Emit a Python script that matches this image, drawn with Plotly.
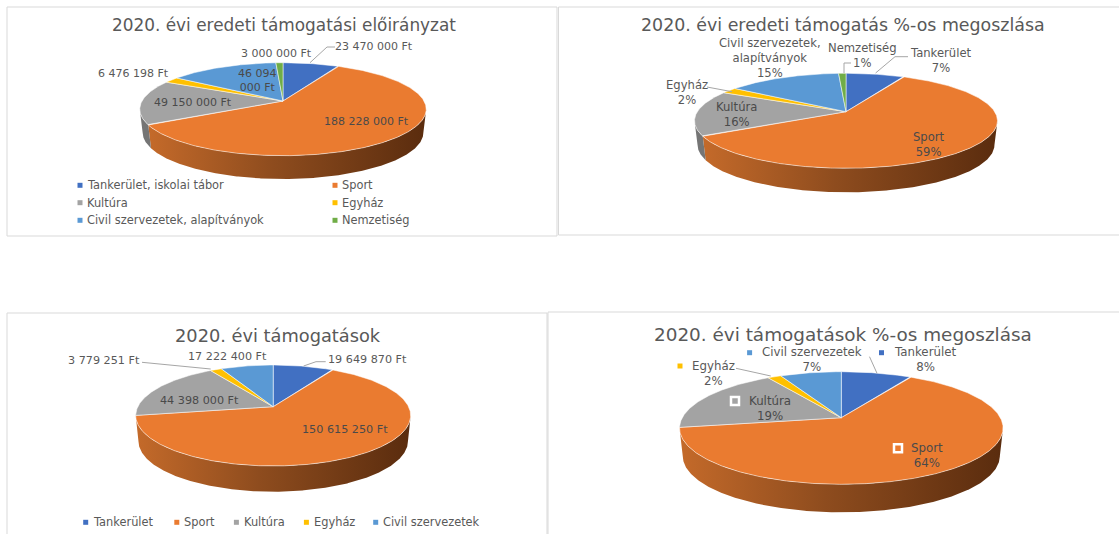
import math
import plotly.graph_objects as go

# ---------- data ----------
cats_original = ["Tankerület", "Sport", "Kultúra", "Egyház", "Civil szervezetek", "Nemzetiség"]
values_original = [23470000, 188228000, 49150000, 6476198, 46094000, 3000000]
cats_final = ["Tankerület", "Sport", "Kultúra", "Egyház", "Civil szervezetek"]
values_final = [19649870, 150615250, 44398000, 3779251, 17222400]
legend_original = ["Tankerület, iskolai tábor", "Sport", "Kultúra", "Egyház",
                   "Civil szervezetek, alapítványok", "Nemzetiség"]
titles = ["2020. évi eredeti támogatási előirányzat", "2020. évi eredeti támogatás %-os megoszlása",
          "2020. évi támogatások", "2020. évi támogatások %-os megoszlása"]

# ---------- style ----------
COLORS = ["#4170C2", "#EA7B30", "#A3A3A3", "#FFC000", "#5A99D4", "#70AD47"]
GREY = "#595959"
DARK = "#4A4A4A"
FONT = "DejaVu Sans"
LEAD = "#A6A6A6"
FRAME = "#D9D9D9"

fig = go.Figure()


def ft(v):
    return f"{v:,}".replace(",", " ") + " Ft"


def pct(values, i):
    return f"{round(100 * values[i] / sum(values))}%"


def text(x, y, s, size=10, color=GREY, anchor="center", font=FONT):
    fig.add_annotation(x=x, y=y, text=s, showarrow=False, xref="x", yref="y", xanchor=anchor,
                       yanchor="middle", align="center", borderpad=0,
                       font=dict(family=font, size=size, color=color))


def pie3d(values, apex_x, apex_y, top, bottom, left, right, depth_bottom):
    """Perspective-tilted pie: each slice angle comes from the values."""
    up, down = apex_y - top, bottom - apex_y
    k = (down - up) / (down + up)
    b = up * (1 + k)
    a = (right - left) / 2 * math.sqrt(1 - k * k)
    depth = depth_bottom - bottom
    shrink = 0.98

    def rim(deg):
        t = math.radians(deg)
        w = 1 + k * math.cos(t)
        return apex_x + a * math.sin(t) / w, apex_y - b * math.cos(t) / w

    total = sum(values)
    edges = [0]
    for v in values:
        edges.append(edges[-1] + 360 * v / total)
    vis0 = math.degrees(math.acos(-k))
    vis1 = 360 - vis0

    # side walls
    for i in range(len(values)):
        s, e = max(edges[i], vis0), min(edges[i + 1], vis1)
        if e <= s:
            continue
        n = max(2, int(e - s) * 2)
        angs = [s + (e - s) * j / n for j in range(n + 1)]
        upper = [rim(d) for d in angs]
        lower = [(apex_x + (x - apex_x) * shrink, y + depth) for x, y in upper][::-1]
        pts = upper + lower + upper[:1]
        kw = dict(fillcolor="#757575")
        if i == 1:
            kw = dict(fillgradient=dict(type="horizontal",
                                        colorscale=[[0, "#C46A2A"], [0.45, "#8E4C1E"], [1, "#5A2C0E"]]))
        fig.add_trace(go.Scatter(x=[p[0] for p in pts], y=[p[1] for p in pts], mode="lines", fill="toself",
                                 line=dict(width=0), showlegend=False, hoverinfo="skip", **kw))
    # top slices
    for i in range(len(values)):
        s, e = edges[i], edges[i + 1]
        n = max(2, int(e - s) * 2)
        pts = [(apex_x, apex_y)] + [rim(s + (e - s) * j / n) for j in range(n + 1)] + [(apex_x, apex_y)]
        fig.add_trace(go.Scatter(x=[p[0] for p in pts], y=[p[1] for p in pts], mode="lines", fill="toself",
                                 fillcolor=COLORS[i], line=dict(color="rgba(255,255,255,0.65)", width=0.8),
                                 showlegend=False, hoverinfo="skip"))


def leader(xs, ys):
    fig.add_trace(go.Scatter(x=xs, y=ys, mode="lines", line=dict(color=LEAD, width=1),
                             showlegend=False, hoverinfo="skip"))


def key(x, y, color, boxed=False):
    fig.add_trace(go.Scatter(x=[x], y=[y], mode="markers", showlegend=False, hoverinfo="skip",
                             marker=dict(symbol="square", size=8 if boxed else 5, color=color,
                                         line=dict(color="white", width=2.5 if boxed else 0))))


# ---------- chart 1 ----------
L1, L2, L3, L4 = 11, 11.6, 11.2, 11.8
pie3d(values_original, 283, 101, 62.7, 155.7, 140, 426.5, 179)
text(283.5, 25, titles[0], 16.9)
leader([310, 327, 335], [62.7, 47, 47])
o = values_original
text(374, 46.7, ft(o[0]), L1)
text(276.8, 53.3, ft(o[5]), L1)
text(257, 80.5, "46 094<br>000 Ft", L1, DARK)
text(133, 73.7, ft(o[3]), L1)
text(193, 102.7, ft(o[2]), L1, DARK)
text(366, 121, ft(o[1]), L1, DARK)
for i, (lx, ly) in enumerate([(80, 185.3), (335, 185.3), (80, 202.7), (335, 202.7), (80, 220.3), (335, 220.3)]):
    key(lx, ly, COLORS[i])
    text(lx + 6, ly, legend_original[i], 11.4, anchor="left")

# ---------- chart 2 ----------
pie3d(values_original, 846, 111.7, 73.3, 168.3, 695, 998, 192.3)
text(842.5, 25, titles[1], 17.4)
leader([875.6, 895, 908], [73, 56.7, 56.7])
leader([844, 844, 851], [73, 63, 63])
leader([707, 732], [87, 91.7])
text(941, 60, f"Tankerület<br>{pct(o, 0)}", L2)
text(862, 55, f"Nemzetiség<br>{pct(o, 5)}", L2)
text(770, 58, f"Civil szervezetek,<br>alapítványok<br>{pct(o, 4)}", L2)
text(687, 92.5, f"Egyház<br>{pct(o, 3)}", L2)
text(736, 114, f"Kultúra<br>{pct(o, 2)}", L2, DARK)
text(929, 144, f"Sport<br>{pct(o, 1)}", L2, DARK)

# ---------- chart 3 ----------
pie3d(values_final, 273.2, 406.7, 365, 466, 135.7, 410.7, 491.7)
f = values_final
text(278, 335, titles[2], 17.8)
leader([303.6, 316, 325.7], [366, 361.7, 361.7])
leader([142, 210.7], [362.3, 369])
text(367, 359.3, ft(f[0]), L3)
text(227, 356.7, ft(f[4]), L3)
text(103.6, 360, ft(f[3]), L3)
text(199, 400, ft(f[2]), L3, DARK)
text(345, 429.3, ft(f[1]), L3, DARK)
for i, lx in enumerate([85.7, 176.8, 236.4, 306.4, 375.7]):
    key(lx, 522.3, COLORS[i])
    text(lx + 6.5, 522.3, cats_final[i], 11.4, anchor="left")

# ---------- chart 4 ----------
pie3d(values_final, 841.3, 417.7, 371.7, 484.3, 680, 1003.6, 512.3)
text(842.8, 334, titles[3], 18.4)
leader([877, 869.5], [373.3, 356.7])
leader([736, 770.8], [368.3, 376])
key(749.6, 352.7, COLORS[4])
text(811.5, 359.7, f"{cats_final[4]}<br>{pct(f, 4)}", L4)
key(881.5, 352.7, COLORS[0])
text(925.4, 359.7, f"{cats_final[0]}<br>{pct(f, 0)}", L4)
key(680, 366, COLORS[3])
text(713, 373, f"{cats_final[3]}<br>{pct(f, 3)}", L4)
key(735, 401, COLORS[2], boxed=True)
text(769.5, 408, f"{cats_final[2]}<br>{pct(f, 2)}", L4, DARK)
key(898, 448.3, COLORS[1], boxed=True)
text(927, 455.3, f"{cats_final[1]}<br>{pct(f, 1)}", L4, DARK)

# ---------- frames ----------
shapes = []
for x0, y0, x1, y1 in [(7, 7, 557, 236), (558.5, 7, 1125, 235), (7, 313, 547, 540), (548, 312, 1125, 540)]:
    shapes.append(dict(type="rect", xref="x", yref="y", x0=x0, y0=y0, x1=x1, y1=y1,
                       line=dict(color=FRAME, width=1), layer="below"))

fig.update_layout(
    width=1119, height=534, margin=dict(l=0, r=0, t=0, b=0),
    paper_bgcolor="white", plot_bgcolor="white", showlegend=False, shapes=shapes,
    xaxis=dict(range=[0, 1119], visible=False, fixedrange=True),
    yaxis=dict(range=[534, 0], visible=False, fixedrange=True),
)
fig.write_html("out.html", config=dict(displayModeBar=False),
               post_script="document.body.style.margin='0';document.body.style.overflow='hidden';")
